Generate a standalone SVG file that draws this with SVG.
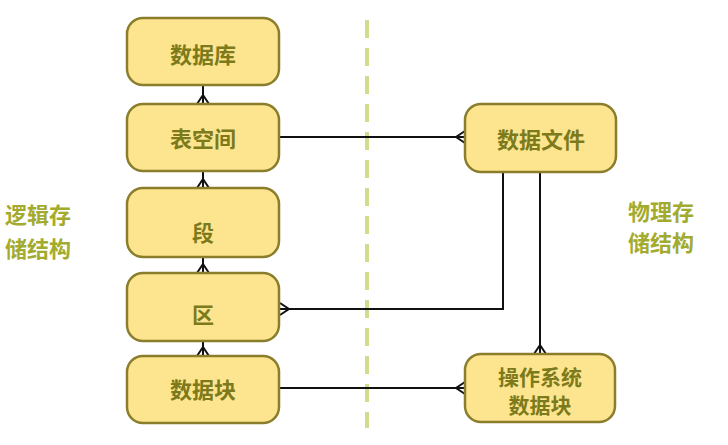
<svg xmlns="http://www.w3.org/2000/svg" width="728" height="445" viewBox="0 0 728 445">
<style>
.box{fill:#fce58e;stroke:#8a7d2c;stroke-width:2.5}
.t{font-family:"Noto Sans CJK SC","Noto Sans",sans-serif;font-size:22px;font-weight:bold;fill:#7d7a1c;text-anchor:middle}
.t2{font-size:21px}
.side{font-family:"Noto Sans CJK SC","Noto Sans",sans-serif;font-size:22px;font-weight:bold;fill:#a3ab2e}
.c{fill:none;stroke:#111;stroke-width:2}
</style>
<rect width="728" height="445" fill="#fff"/>
<line x1="367" y1="20" x2="367" y2="428" stroke="#d5db8c" stroke-width="4" stroke-dasharray="18,10"/>
<g id="connectors">
<path class="c" d="M203,85 V104 M197,104 L203,95 L209,104"/>
<path class="c" d="M203,171 V188 M197,188 L203,179 L209,188"/>
<path class="c" d="M203,257 V273 M197,273 L203,264 L209,273"/>
<path class="c" d="M203,341 V356 M197,356 L203,347 L209,356"/>
<path class="c" d="M280,137 H465 M465,131 L456,137 L465,143"/>
<path class="c" d="M503,172 V309 H280 M280,303 L289,309 L280,315"/>
<path class="c" d="M540,172 V354 M534,354 L540,345 L546,354"/>
<path class="c" d="M280,388 H465 M465,382 L456,388 L465,394"/>
</g>
<g id="n1"><rect class="box" x="127" y="18" width="152" height="67" rx="16"/><text class="t" x="203" y="63">数据库</text></g>
<g id="n2"><rect class="box" x="127" y="104" width="152" height="67" rx="16"/><text class="t" x="203" y="147">表空间</text></g>
<g id="n3"><rect class="box" x="127" y="188" width="152" height="69" rx="16"/><text class="t" x="203" y="241">段</text></g>
<g id="n4"><rect class="box" x="127" y="273" width="152" height="68" rx="16"/><text class="t" x="203" y="323">区</text></g>
<g id="n5"><rect class="box" x="127" y="356" width="152" height="67" rx="16"/><text class="t" x="203" y="398">数据块</text></g>
<g id="n6"><rect class="box" x="465" y="104" width="151" height="68" rx="16"/><text class="t" x="541" y="148">数据文件</text></g>
<g id="n7"><rect class="box" x="465" y="354" width="150" height="68" rx="16"/><text class="t t2" x="540" y="385">操作系统</text><text class="t t2" x="540" y="413">数据块</text></g>
<text class="side" x="5" y="223">逻辑存</text>
<text class="side" x="5" y="257">储结构</text>
<text class="side" x="628" y="220">物理存</text>
<text class="side" x="628" y="251">储结构</text>
</svg>
